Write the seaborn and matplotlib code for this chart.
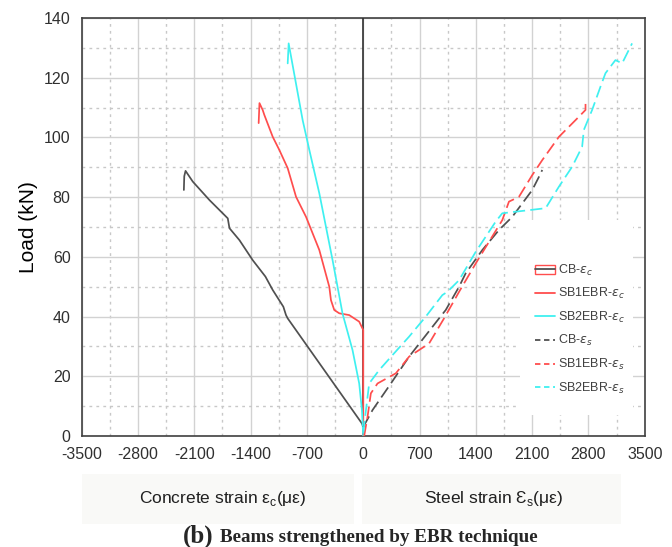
import matplotlib
matplotlib.use("Agg")
import matplotlib.pyplot as plt
from matplotlib.patches import Rectangle
from matplotlib.lines import Line2D
from matplotlib.ticker import MultipleLocator
import seaborn as sns
import pandas as pd

# ---- measured load-strain curves (strain in micro-strain, load in kN) ----
cb_c_strain = [0, -16, -939, -960, -993, -1125, -1216, -1374, -1539, -1663, -1684,
               -1911, -2119, -2209, -2225, -2230]
cb_c_load = [3, 4.2, 39.4, 40.5, 43.3, 48.9, 53.4, 58.9, 65.6, 69.6, 72.9,
             79.0, 85.2, 88.8, 87.0, 82.4]

sb1_c_strain = [0, 0, -50, -174, -298, -360, -401, -422, -546, -711, -835, -939,
                -1043, -1125, -1229, -1250, -1290, -1300]
sb1_c_load = [0, 35.5, 38.3, 40.5, 41.1, 42.2, 45.5, 50.0, 62.3, 73.4, 80.1, 89.7,
              95.8, 100.2, 107.5, 109.2, 111.5, 104.8]

sb2_c_strain = [0, -16, -50, -133, -257, -381, -546, -670, -753, -927, -939]
sb2_c_load = [0, 8.7, 17.6, 28.8, 41.0, 58.9, 81.3, 95.8, 105.8, 131.5, 124.8]

cb_s_strain = [0, 116, 344, 571, 943, 1026, 1192, 1274, 1481, 1688, 1853, 2102,
               2185, 2226]
cb_s_load = [3, 8.7, 17.6, 26.6, 39.4, 42.2, 50.0, 54.5, 62.3, 69.0, 73.4, 82.4,
             86.8, 89.1]

sb1_s_strain = [12, 54, 95, 178, 406, 571, 819, 1005, 1192, 1399, 1729, 1812, 1936,
                2102, 2226, 2433, 2640, 2764, 2764]
sb1_s_load = [0, 6.5, 14.3, 17.6, 21.0, 26.6, 31.0, 39.4, 48.3, 57.8, 72.3, 78.5,
              80.1, 87.4, 92.4, 100.2, 105.8, 109.2, 111.5]

sb2_s_strain = [0, 74, 199, 364, 571, 778, 984, 1047, 1192, 1399, 1647, 1729, 2268,
                2433, 2598, 2722, 2743, 2846, 2950, 3012, 3136, 3219, 3343]
sb2_s_load = [1, 17.6, 22.1, 27.1, 33.3, 40.0, 47.2, 48.3, 52.2, 61.7, 71.8, 74.6,
              76.3, 83.5, 90.2, 96.9, 102.5, 109.2, 117.0, 121.5, 125.9, 124.8, 131.5]

series_names = ["CB-$\\mathit{\\varepsilon_c}$", "SB1EBR-$\\mathit{\\varepsilon_c}$",
                "SB2EBR-$\\mathit{\\varepsilon_c}$", "CB-$\\mathit{\\varepsilon_s}$",
                "SB1EBR-$\\mathit{\\varepsilon_s}$", "SB2EBR-$\\mathit{\\varepsilon_s}$"]

x_ticks = list(range(-3500, 3501, 700))
y_ticks = list(range(0, 141, 20))

# ---- style ----
sns.set_style("white")
plt.rcParams["font.family"] = ["Liberation Sans", "DejaVu Sans"]
plt.rcParams["axes.unicode_minus"] = False

GREY = "#505050"
RED = "#ff4d4d"
CYAN = "#3ff0f0"
DASH = (0, (7, 3))

fig = plt.figure(figsize=(6.72, 5.47), dpi=100)
ax = fig.add_axes([0.1216, 0.2029, 0.8378, 0.7642])

curves = [
    (cb_c_strain, cb_c_load, GREY, "-"),
    (sb1_c_strain, sb1_c_load, RED, "-"),
    (sb2_c_strain, sb2_c_load, CYAN, "-"),
    (cb_s_strain, cb_s_load, GREY, DASH),
    (sb1_s_strain, sb1_s_load, RED, DASH),
    (sb2_s_strain, sb2_s_load, CYAN, DASH),
]

for (xs, ys, col, ls), name in zip(curves, series_names):
    df = pd.DataFrame({"strain": xs, "load": ys})
    sns.lineplot(data=df, x="strain", y="load", sort=False, estimator=None,
                 color=col, linestyle=ls, lw=1.25, ax=ax, legend=False, zorder=3)

# axes, ticks and grid
ax.set_xlim(-3500, 3500)
ax.set_ylim(0, 140)
ax.set_xticks(x_ticks)
ax.set_yticks(y_ticks)
ax.xaxis.set_minor_locator(MultipleLocator(350))
ax.yaxis.set_minor_locator(MultipleLocator(10))
ax.grid(which="major", color="#d2d2d2", lw=1.0, ls="-")
ax.grid(which="minor", color="#c8c8c8", lw=1.0, ls=(0, (2, 3)))
ax.set_axisbelow(True)
ax.axvline(0, color="#303030", lw=1.2, zorder=2.6)

for sp in ax.spines.values():
    sp.set_color("#404040")
    sp.set_linewidth(1.2)

ax.tick_params(which="major", direction="out", length=5, width=1.1,
               color="#404040", labelsize=11.5, labelcolor="#303030", pad=3)
ax.tick_params(which="minor", direction="inout", length=4, width=1.0,
               color="#404040")
ax.set_xlabel("")
ax.set_ylabel("Load (kN)", fontsize=15, color="black", labelpad=4)

# white panel behind the legend
ax.add_patch(Rectangle((0.778, 0.05), 0.201, 0.467, transform=ax.transAxes,
                       facecolor="white", edgecolor="none", zorder=2.5))

handles = [
    (Rectangle((0, 0), 1, 1, facecolor="none", edgecolor=RED, lw=1.0),
     Line2D([], [], color=GREY, lw=1.3)),
    Line2D([], [], color=RED, lw=1.3),
    Line2D([], [], color=CYAN, lw=1.3),
    Line2D([], [], color=GREY, lw=1.3, ls=(0, (3, 2))),
    Line2D([], [], color=RED, lw=1.3, ls=(0, (3, 2))),
    Line2D([], [], color=CYAN, lw=1.3, ls=(0, (3, 2))),
]
leg = ax.legend(handles, series_names, loc="upper left",
                bbox_to_anchor=(0.805, 0.415), frameon=False, fontsize=9,
                handlelength=1.6, handletextpad=0.25, labelspacing=0.68,
                borderaxespad=0, borderpad=0)
for t in leg.get_texts():
    t.set_color("#404040")
leg.set_zorder(4)

# strain labels beneath the axis
fig.patches.append(Rectangle((82 / 672, 1 - 524 / 547), 272 / 672, 50 / 547,
                             transform=fig.transFigure, facecolor="#f9f9f7",
                             edgecolor="none"))
fig.patches.append(Rectangle((362 / 672, 1 - 524 / 547), 259 / 672, 50 / 547,
                             transform=fig.transFigure, facecolor="#f9f9f7",
                             edgecolor="none"))
fig.text(223 / 672, 1 - 499 / 547, "Concrete strain ε$_\\mathregular{c}$(με)",
         ha="center", va="center", fontsize=12.5, color="#202020")
fig.text(494 / 672, 1 - 499 / 547, "Steel strain Ɛ$_\\mathregular{s}$(με)",
         ha="center", va="center", fontsize=12.5, color="#202020")

# caption
serif = ["Liberation Serif", "DejaVu Serif"]
fig.text(213 / 672, 1 - 536 / 547, "(b)", ha="right", va="center",
         fontsize=18, fontweight="bold", family=serif)
fig.text(220 / 672, 1 - 537 / 547, "Beams strengthened by EBR technique",
         ha="left", va="center", fontsize=13.8, fontweight="bold", family=serif)

fig.savefig("out.png", dpi=100, facecolor="white")
